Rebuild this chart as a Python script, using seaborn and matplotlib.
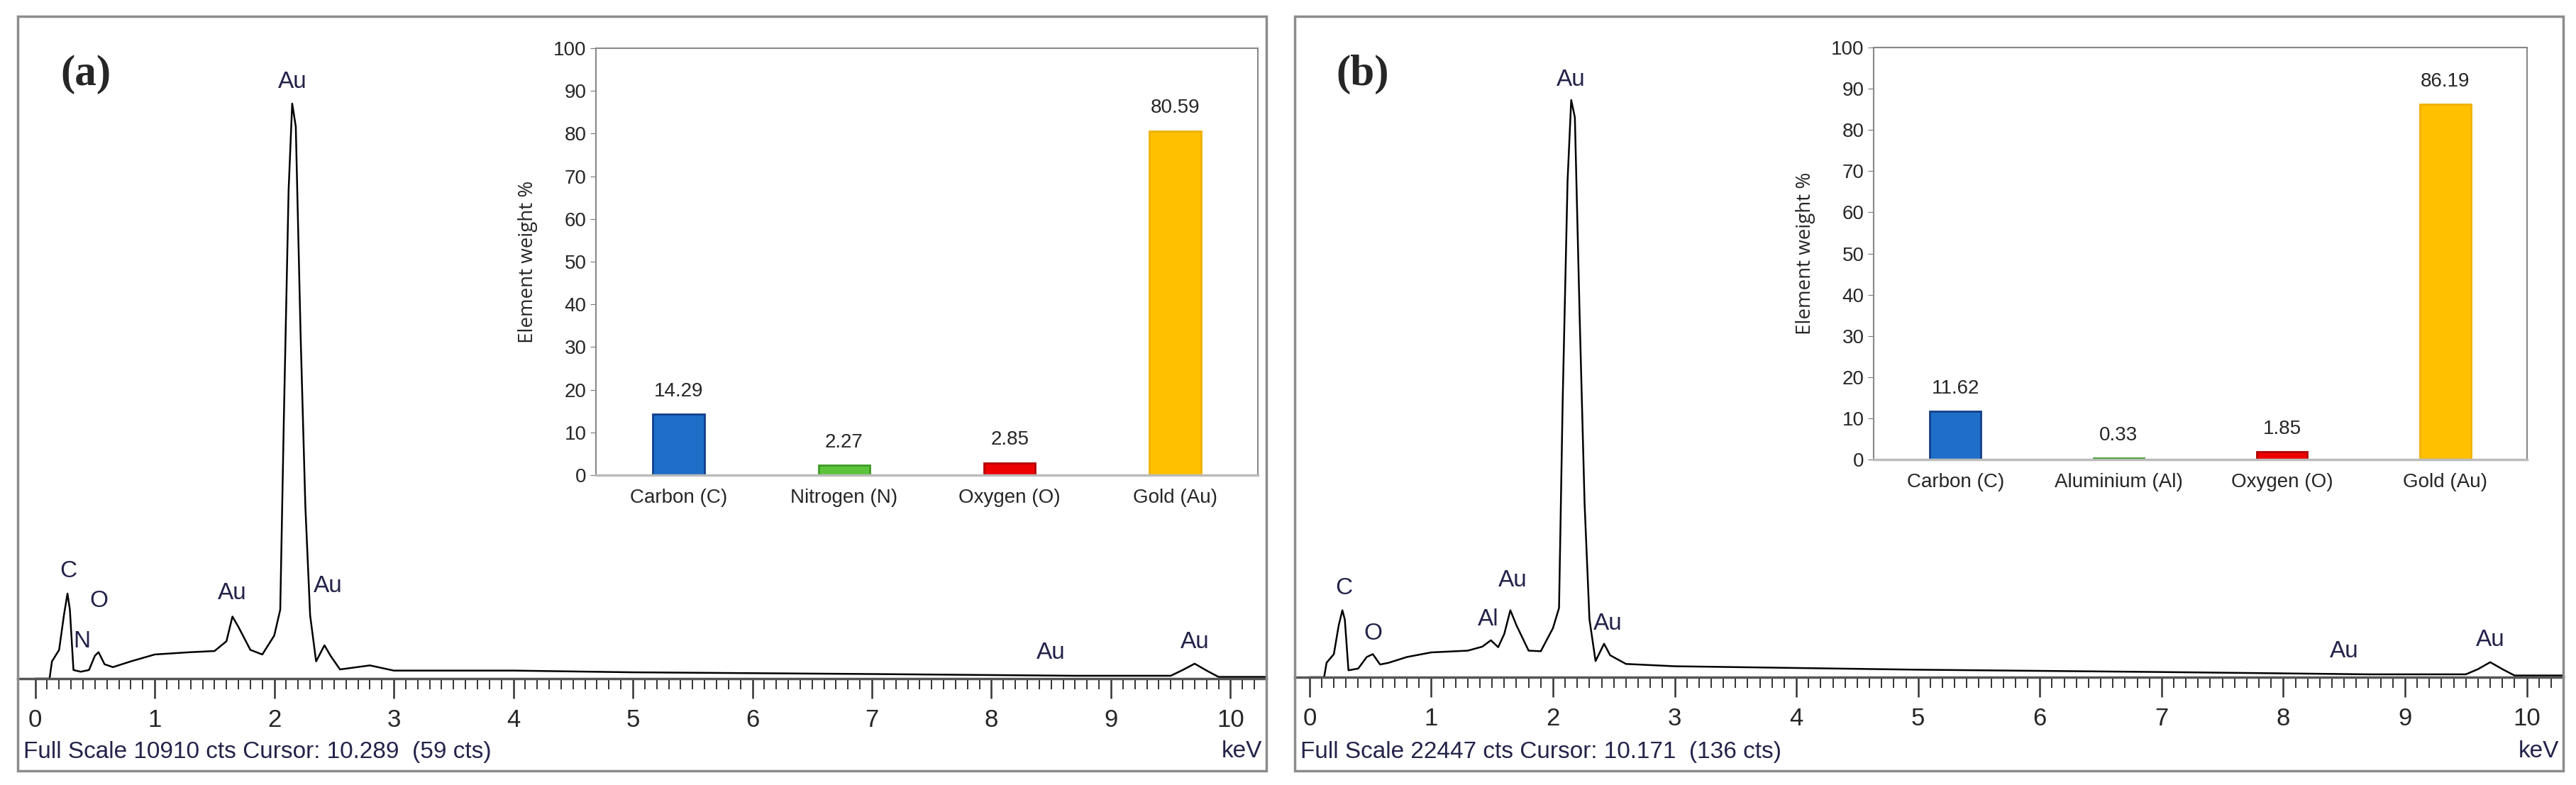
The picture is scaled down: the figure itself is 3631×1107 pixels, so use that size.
import numpy as np
import pandas as pd
import matplotlib
matplotlib.use('Agg')
import matplotlib.pyplot as plt
from matplotlib.patches import Rectangle
import seaborn as sns

sns.set_style('white')
plt.rcParams['font.family'] = ['Liberation Sans', 'DejaVu Sans']

# EDS spectra, relative counts (main Au peak = 100)
kev_a = [0.0, 0.12, 0.14, 0.2, 0.24, 0.27, 0.29, 0.32, 0.38, 0.45, 0.5, 0.53, 0.58, 0.65, 0.8, 1.0, 1.3,
         1.5, 1.6, 1.65, 1.7, 1.8, 1.9, 2.0, 2.05, 2.08, 2.12, 2.15, 2.18, 2.22, 2.26, 2.3, 2.35, 2.42,
         2.47, 2.55, 2.8, 3.0, 4.0, 5.0, 7.0, 8.7, 9.5, 9.6, 9.7, 9.8, 9.9, 10.3]
cts_a = [0, 0, 3, 5, 11, 14.8, 12, 1.5, 1.2, 1.5, 4, 4.6, 2.5, 2, 3, 4.2, 4.6,
         4.8, 6.5, 10.8, 9, 5, 4.2, 7.5, 12, 45, 85, 100, 96, 60, 30, 11, 3, 5.8,
         4, 1.6, 2.3, 1.4, 1.4, 1.1, 0.8, 0.5, 0.5, 1.5, 2.6, 1.4, 0.3, 0.3]

kev_b = [0.0, 0.12, 0.14, 0.2, 0.24, 0.27, 0.29, 0.32, 0.4, 0.47, 0.52, 0.58, 0.65, 0.8, 1.0, 1.3,
         1.42, 1.49, 1.55, 1.6, 1.65, 1.7, 1.8, 1.9, 2.0, 2.05, 2.08, 2.12, 2.15, 2.18, 2.22, 2.26,
         2.3, 2.35, 2.42, 2.47, 2.6, 3.0, 5.0, 7.0, 8.7, 9.5, 9.6, 9.7, 9.8, 9.9, 10.3]
cts_b = [0, 0, 2.5, 4, 9, 11.6, 10, 1.2, 1.5, 3.5, 4, 2.2, 2.5, 3.5, 4.3, 4.6,
         5.3, 6.4, 5.2, 7.5, 11.6, 9, 4.6, 4.5, 8.5, 12, 48, 86, 100, 97, 62, 30,
         10, 2.8, 5.8, 3.8, 2.3, 1.9, 1.3, 0.9, 0.5, 0.5, 1.4, 2.6, 1.4, 0.3, 0.3]

# peak labels: (text, keV, height)
peaks_a = [('C', 0.28, 18.7), ('N', 0.39, 6.5), ('O', 0.53, 13.5), ('Au', 1.65, 14.8),
           ('Au', 2.15, 103.7), ('Au', 2.45, 16.1), ('Au', 8.5, 4.5), ('Au', 9.7, 6.4)]
peaks_b = [('C', 0.28, 15.4), ('O', 0.52, 7.5), ('Al', 1.47, 10.0), ('Au', 1.67, 16.8),
           ('Au', 2.15, 103.5), ('Au', 2.45, 9.3), ('Au', 8.5, 4.5), ('Au', 9.7, 6.4)]

# inset bar data
elements_a = ['Carbon (C)', 'Nitrogen (N)', 'Oxygen (O)', 'Gold (Au)']
weights_a = [14.29, 2.27, 2.85, 80.59]
elements_b = ['Carbon (C)', 'Aluminium (Al)', 'Oxygen (O)', 'Gold (Au)']
weights_b = [11.62, 0.33, 1.85, 86.19]
bar_colors = ['#1f6fc8', '#5cc43b', '#ee0000', '#ffc000']
edge_colors = ['#123f8a', '#3c9a25', '#b00000', '#f0b000']

footer_a = 'Full Scale 10910 cts Cursor: 10.289  (59 cts)'
footer_b = 'Full Scale 22447 cts Cursor: 10.171  (136 cts)'

W, H = 3631, 1107
fig = plt.figure(figsize=(W / 100, H / 100), dpi=100)


def px_axes(l, t, r, b):
    return fig.add_axes([l / W, 1 - b / H, (r - l) / W, (b - t) / H])


def spectrum(box, base, kev0, perkev, peaktop, kev, cts, peaks, footer, tag, inset, names, vals):
    l, t, r, b = box
    fig.patches.append(Rectangle((l / W, 1 - b / H), (r - l) / W, (b - t) / H, transform=fig.transFigure,
                                 fill=False, edgecolor='#8c8c8c', lw=2.5))
    ax = px_axes(l, t, r, base)
    df = pd.DataFrame({'keV': kev, 'cts': cts})
    sns.lineplot(data=df, x='keV', y='cts', ax=ax, color='black', lw=1.8)
    ax.set_xlim((l - kev0) / perkev, (r - kev0) / perkev)
    ax.set_ylim(0, 100 * (base - t) / (base - peaktop))
    for s in ['top', 'right', 'left']:
        ax.spines[s].set_visible(False)
    ax.spines['bottom'].set_color('#555555')
    ax.spines['bottom'].set_linewidth(2.5)
    ax.set_xticks(range(0, 11))
    ax.set_xticks(np.arange(0, 10.35, 0.1), minor=True)
    ax.tick_params(axis='x', which='major', direction='out', length=20, width=1.8, color='#333333',
                   labelsize=25, pad=10, bottom=True)
    ax.tick_params(axis='x', which='minor', direction='out', length=11, width=1.4, color='#333333', bottom=True)
    ax.set_yticks([])
    ax.set_xlabel('')
    ax.set_ylabel('')
    for txt, x, y in peaks:
        ax.text(x, y, txt, ha='center', va='center', fontsize=24, color='#23234a')
    fig.text((l + 8) / W, 1 - 1060 / H, footer, fontsize=24, color='#23234a', va='center', ha='left')
    fig.text((r - 6) / W, 1 - 1060 / H, 'keV', fontsize=24, color='#23234a', va='center', ha='right')
    fig.text((l + 96) / W, 1 - 105 / H, tag, fontsize=44, fontweight='bold', family='Liberation Serif',
             va='center', ha='center')

    ia = px_axes(*inset)
    bd = pd.DataFrame({'element': names, 'weight': vals})
    sns.barplot(data=bd, x='element', y='weight', hue='element', palette=bar_colors, ax=ia,
                width=0.31, legend=False, saturation=1)
    for p, ec in zip(ia.patches, edge_colors):
        p.set_edgecolor(ec)
        p.set_linewidth(2)
    for c in ia.containers:
        ia.bar_label(c, fmt='%.2f', padding=14, fontsize=20)
    ia.set_ylim(0, 100)
    ia.set_yticks(range(0, 101, 10))
    ia.tick_params(axis='y', direction='out', length=6, color='#777777', labelsize=20, left=True)
    ia.tick_params(axis='x', length=0, labelsize=20, pad=14)
    for s in ia.spines.values():
        s.set_color('#888888')
        s.set_linewidth(1.5)
    ia.spines['bottom'].set_color('#bbbbbb')
    ia.spines['bottom'].set_linewidth(2.5)
    ia.set_xlabel('')
    ia.set_ylabel('Element weight %', fontsize=20, family='Open Sans', labelpad=16)


spectrum((25, 23, 1785, 1087), 957, 50, 171, 146, kev_a, cts_a, peaks_a, footer_a, '(a)',
         (840, 68, 1773, 670), elements_a, weights_a)
spectrum((1825, 23, 3613, 1087), 955, 1846, 173, 141, kev_b, cts_b, peaks_b, footer_b, '(b)',
         (2641, 67, 3562, 648), elements_b, weights_b)

plt.savefig('out.png', dpi=100)
